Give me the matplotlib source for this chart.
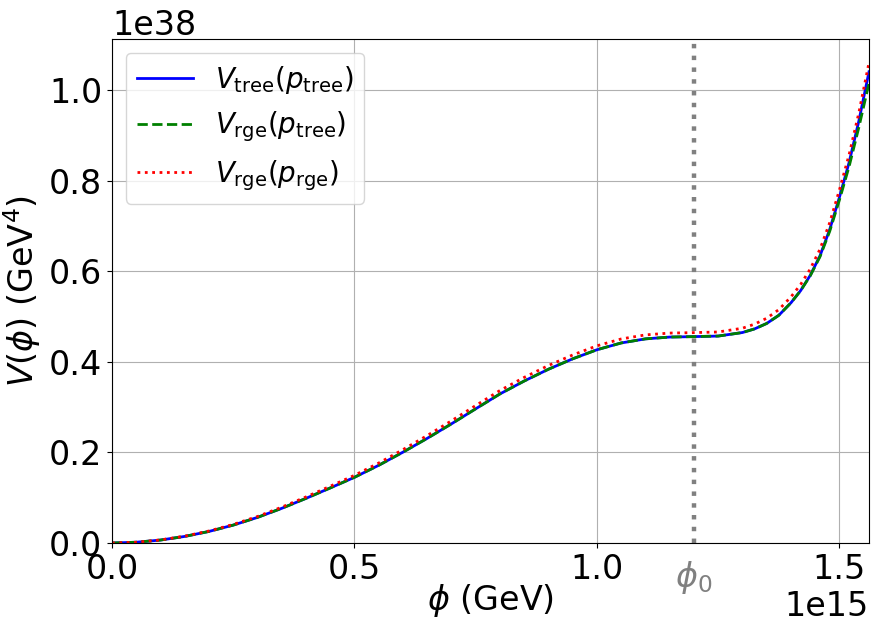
import matplotlib
matplotlib.use('Agg')
import numpy as np
import matplotlib.pyplot as plt
from matplotlib.transforms import blended_transform_factory

# 场值 (单位 1e15 GeV) 与三条势能曲线 (单位 1e38 GeV^4)
phi = [0.00, 0.05, 0.10, 0.15, 0.20, 0.25, 0.30, 0.35, 0.40, 0.45,
       0.50, 0.55, 0.60, 0.65, 0.70, 0.75, 0.80, 0.85, 0.90, 0.95,
       1.00, 1.05, 1.10, 1.15, 1.20, 1.25, 1.30, 1.325, 1.35, 1.375,
       1.40, 1.42, 1.44, 1.46, 1.48, 1.50, 1.52, 1.54, 1.561]

v_tree_tree = [0.0000, 0.0017, 0.0065, 0.0145, 0.0255, 0.0395, 0.0565, 0.0765, 0.0985, 0.1215,
               0.1450, 0.1715, 0.2005, 0.2310, 0.2630, 0.2962, 0.3290, 0.3575, 0.3835, 0.4065,
               0.4265, 0.4415, 0.4505, 0.4545, 0.4555, 0.4567, 0.4645, 0.4725, 0.4845, 0.5025,
               0.5300, 0.5570, 0.5910, 0.6340, 0.6920, 0.7630, 0.8400, 0.9310, 1.0400]

v_rge_tree = [0.0000, 0.0017, 0.0065, 0.0145, 0.0255, 0.0395, 0.0565, 0.0765, 0.0985, 0.1215,
              0.1450, 0.1715, 0.2005, 0.2310, 0.2630, 0.2962, 0.3290, 0.3575, 0.3835, 0.4065,
              0.4265, 0.4415, 0.4505, 0.4545, 0.4555, 0.4567, 0.4645, 0.4725, 0.4845, 0.5025,
              0.5300, 0.5570, 0.5900, 0.6320, 0.6880, 0.7570, 0.8310, 0.9170, 1.0150]

v_rge_rge = [0.0000, 0.0017, 0.0068, 0.0151, 0.0265, 0.0410, 0.0585, 0.0791, 0.1017, 0.1253,
             0.1494, 0.1765, 0.2061, 0.2372, 0.2697, 0.3034, 0.3366, 0.3655, 0.3918, 0.4150,
             0.4352, 0.4503, 0.4593, 0.4633, 0.4643, 0.4657, 0.4740, 0.4830, 0.4960, 0.5150,
             0.5430, 0.5705, 0.6050, 0.6485, 0.7070, 0.7790, 0.8570, 0.9490, 1.0600]

phi0 = 1.2  # 拐点位置 (1e15 GeV)

plt.rcParams['font.size'] = 24
plt.rcParams['mathtext.fontset'] = 'dejavusans'

fig = plt.figure(figsize=(8.71, 6.2), dpi=100)
ax = fig.add_axes([0.1286, 0.1242, 0.8691, 0.8134])

x = np.array(phi) * 1e15
ax.plot(x, np.array(v_tree_tree) * 1e38, color='blue', ls='-', lw=2,
        label=r'$V_{\rm tree}(p_{\rm tree})$')
ax.plot(x, np.array(v_rge_tree) * 1e38, color='green', ls='--', lw=2,
        label=r'$V_{\rm rge}(p_{\rm tree})$')
ax.plot(x, np.array(v_rge_rge) * 1e38, color='red', ls=':', lw=2,
        label=r'$V_{\rm rge}(p_{\rm rge})$')

# 拐点处的竖直虚线和标注
ax.axvline(phi0 * 1e15, color='gray', ls=':', lw=3.2)
trans = blended_transform_factory(ax.transData, ax.transAxes)
ax.text(phi0 * 1e15, -0.032, r'$\phi_0$', color='gray', ha='center', va='top',
        transform=trans)

ax.set_xlim(0, x[-1])
ax.set_ylim(bottom=0, top=1.113e38)
ax.set_xticks([0, 0.5e15, 1.0e15, 1.5e15])
ax.set_yticks([0, 0.2e38, 0.4e38, 0.6e38, 0.8e38, 1.0e38])
ax.grid(True)

ax.set_xlabel(r'$\phi$ (GeV)', labelpad=-3)
ax.set_ylabel(r'$V(\phi)$ (GeV$^4$)')
ax.legend(loc='upper left', fontsize=20, handlelength=2.0)

plt.savefig('out.png', dpi=100)
plt.close()
